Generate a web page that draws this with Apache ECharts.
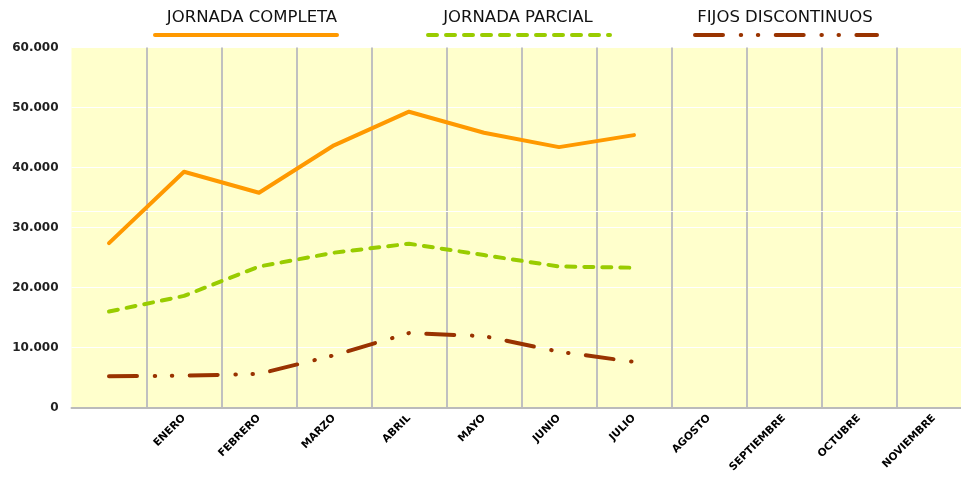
<!DOCTYPE html>
<html>
<head>
<meta charset="utf-8">
<title>Jornada</title>
<script src="https://cdn.jsdelivr.net/npm/echarts@6/dist/echarts.min.js"></script>
<style>
  html, body { margin: 0; padding: 0; background: #fff; }
  #main { width: 961px; height: 486px; }
</style>
</head>
<body>
<div id="main"></div>
<script>
// categorias (la primera va sin etiqueta)
var meses = ['', 'ENERO', 'FEBRERO', 'MARZO', 'ABRIL', 'MAYO', 'JUNIO', 'JULIO',
  'AGOSTO', 'SEPTIEMBRE', 'OCTUBRE', 'NOVIEMBRE'];
var nombres = ['JORNADA COMPLETA', 'JORNADA PARCIAL', 'FIJOS DISCONTINUOS'];
// valores
var completa = [27400, 39300, 35800, 43700, 49300, 45800, 43400, 45400];
var parcial = [16000, 18600, 23500, 25800, 27300, 25400, 23500, 23300];
var discontinuos = [5200, 5300, 5600, 8700, 12400, 11900, 9300, 7600];
// linea blanca suelta que aparece en el original
var lineaExtra = 32700;

var colores = ['#FF9900', '#99CC00', '#993300'];

function miles(v) {
  return String(v).replace(/\B(?=(\d{3})+(?!\d))/g, '.');
}

var myChart = echarts.init(document.getElementById('main'));

var option = {
  animation: false,
  grid: {
    left: 71.5, width: 900, top: 47.5, bottom: 78.5,
    outerBoundsMode: 'none',
    show: true, backgroundColor: '#FFFFCC', borderWidth: 0
  },
  graphic: [
    { type: 'text', x: 252, y: 18, style: { text: nombres[0], textAlign: 'center', textVerticalAlign: 'middle', font: '16.5px "DejaVu Sans"', fill: '#111' } },
    { type: 'text', x: 518, y: 18, style: { text: nombres[1], textAlign: 'center', textVerticalAlign: 'middle', font: '16.5px "DejaVu Sans"', fill: '#111' } },
    { type: 'text', x: 785, y: 18, style: { text: nombres[2], textAlign: 'center', textVerticalAlign: 'middle', font: '16.5px "DejaVu Sans"', fill: '#111' } }
  ],
  legend: [0, 1, 2].map(function (i) {
    return {
      data: [nombres[i]],
      left: [153, 426, 693][i],
      top: 28,
      padding: 0,
      itemWidth: 182,
      itemHeight: 14,
      selectedMode: false,
      formatter: function () { return ''; },
      itemStyle: { color: 'rgba(0,0,0,0)', borderWidth: 0 },
      lineStyle: { width: 4 }
    };
  }),
  xAxis: {
    type: 'category',
    data: meses,
    boundaryGap: true,
    axisLine: { lineStyle: { color: '#BBBBBB', width: 2 } },
    axisTick: { alignWithLabel: true, length: 4, lineStyle: { color: '#BBBBBB' } },
    axisLabel: {
      interval: 0, rotate: 45, margin: 9,
      fontFamily: 'DejaVu Sans', fontWeight: 'bold', fontSize: 10.5, color: '#000'
    },
    splitLine: {
      show: true,
      interval: function (i) { return i > 0; },
      lineStyle: { color: '#C0C0C0', width: 2 }
    }
  },
  yAxis: {
    type: 'value',
    min: 0, max: 60000, interval: 10000,
    axisLine: { show: false },
    axisTick: { show: false },
    axisLabel: {
      margin: 13, formatter: miles,
      fontFamily: 'DejaVu Sans', fontWeight: 'bold', fontSize: 12, color: '#222'
    },
    splitLine: { lineStyle: { color: '#FFFFFF', width: 1 } }
  },
  series: [
    {
      name: nombres[0], type: 'line', data: completa, symbol: 'none',
      lineStyle: { color: colores[0], width: 4, cap: 'round', join: 'round' },
      itemStyle: { color: colores[0] },
      markLine: {
        z: 1, silent: true, symbol: 'none', label: { show: false },
        lineStyle: { color: '#FFFFFF', width: 1, type: 'solid' },
        data: [{ yAxis: lineaExtra }]
      }
    },
    {
      name: nombres[1], type: 'line', data: parcial, symbol: 'none',
      lineStyle: { color: colores[1], width: 4, type: [9, 9], cap: 'round' },
      itemStyle: { color: colores[1] }
    },
    {
      name: nombres[2], type: 'line', data: discontinuos, symbol: 'none',
      lineStyle: { color: colores[2], width: 4, type: [28, 17.7, 0.5, 16.6, 0.5, 17.4], cap: 'round' },
      itemStyle: { color: colores[2] }
    }
  ]
};

myChart.setOption(option);
</script>
</body>
</html>
